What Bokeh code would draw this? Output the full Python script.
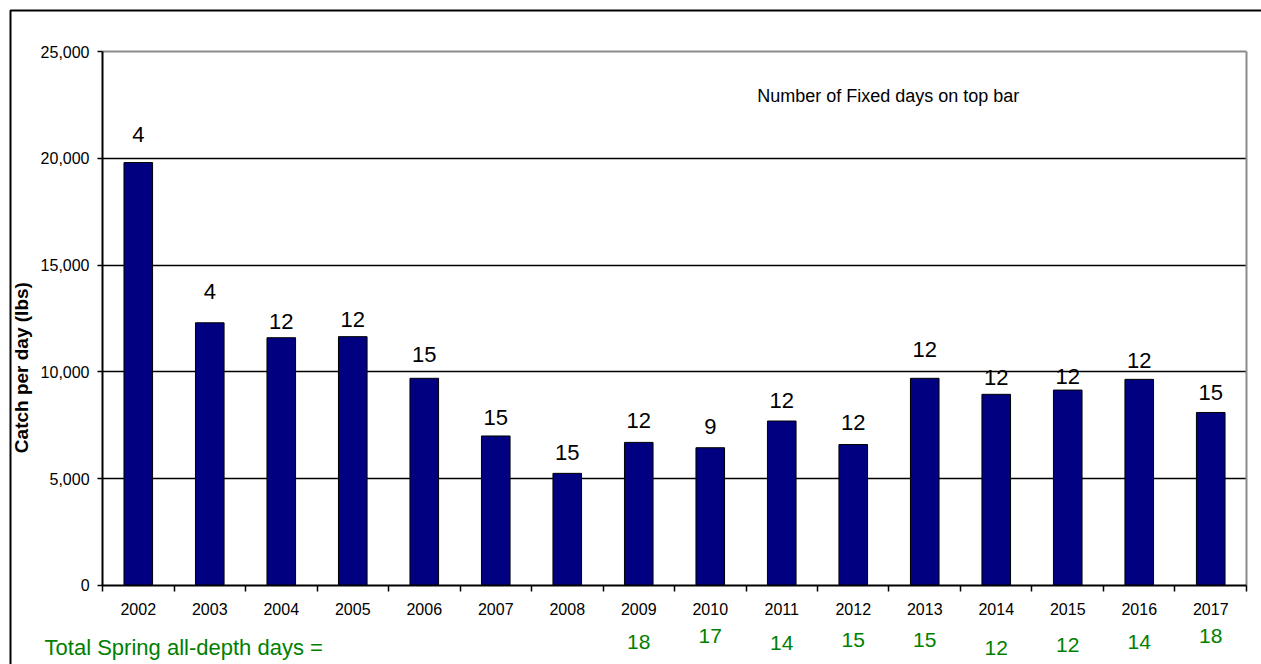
import math
from bokeh.plotting import figure
from bokeh.models import (ColumnDataSource, LinearAxis, FixedTicker, NumeralTickFormatter,
                          BasicTickFormatter, LabelSet, Label, BoxAnnotation, Range1d, Grid)
from bokeh.core.properties import value
from bokeh.embed import file_html
from bokeh.resources import INLINE

# ---------------- data ----------------
years = [2002, 2003, 2004, 2005, 2006, 2007, 2008, 2009,
         2010, 2011, 2012, 2013, 2014, 2015, 2016, 2017]
catch_per_day = [19800, 12300, 11600, 11650, 9700, 7000, 5250, 6700,
                 6450, 7700, 6600, 9700, 8950, 9150, 9650, 8100]
fixed_days = [4, 4, 12, 12, 15, 15, 15, 12, 9, 12, 12, 12, 12, 12, 12, 15]

spring_years = [2009, 2010, 2011, 2012, 2013, 2014, 2015, 2016, 2017]
spring_total_days = [18, 17, 14, 15, 15, 12, 12, 14, 18]

y_ticks = [0, 5000, 10000, 15000, 20000, 25000]
grid_ticks = [5000, 10000, 15000, 20000]

# ---------------- label placement (styling, px) ----------------
fixed_label_lift = [28, 31, 16, 17, 24, 18, 21, 22, 21, 21, 22, 29, 17, 14, 19, 20]
spring_label_drop = [57, 51, 58, 55, 55, 63, 60, 57, 51]

FONT = "Liberation Sans"
GREEN = "#008000"
NAVY = "#000080"

y_min, y_max = 0, 25000
x_lo, x_hi = years[0] - 0.5, years[-1] + 0.5

src = ColumnDataSource(dict(
    year=years, catch=catch_per_day,
    fixed=[str(v) for v in fixed_days], lift=fixed_label_lift))
spring_src = ColumnDataSource(dict(
    year=spring_years, total=[str(v) for v in spring_total_days],
    zero=[0] * len(spring_years), drop=[-d for d in spring_label_drop]))

# The frame fills the whole canvas; the axes are pinned inside it.
p = figure(width=1261, height=664, title=None,
           x_range=Range1d(2000.073, 2017.710), y_range=Range1d(-3699, 27388),
           x_axis_type=None, y_axis_type=None,
           output_backend="svg", toolbar_location=None,
           min_border_left=0, min_border_right=0, min_border_top=0, min_border_bottom=0)
p.background_fill_color = "white"
p.border_fill_color = "white"
p.outline_line_color = None

# horizontal grid lines (plot area only)
p.add_layout(Grid(dimension=1, ticker=FixedTicker(ticks=grid_ticks), cross_bounds=(x_lo, x_hi),
                  grid_line_color="black", grid_line_width=1.5))
# grey top and right edges of the plot area
p.add_layout(Grid(dimension=1, ticker=FixedTicker(ticks=[y_max]), cross_bounds=(x_lo, x_hi),
                  grid_line_color="#8c8c8c", grid_line_width=2))
p.add_layout(Grid(dimension=0, ticker=FixedTicker(ticks=[x_hi]), cross_bounds=(y_min, y_max),
                  grid_line_color="#8c8c8c", grid_line_width=2))

# y axis
yaxis = LinearAxis(fixed_location=x_lo, bounds=(y_min, y_max),
                   ticker=FixedTicker(ticks=y_ticks),
                   formatter=NumeralTickFormatter(format="0,0"),
                   axis_line_color="black", axis_line_width=2,
                   major_tick_line_color="black", major_tick_line_width=1.5,
                   major_tick_out=5, major_tick_in=0,
                   minor_tick_line_color=None,
                   major_label_text_font=FONT, major_label_text_font_size="16px",
                   major_label_text_color="black", major_label_standoff=8)
p.add_layout(yaxis, "left")

# x axis: year labels at bar centres, tick marks between years
xaxis = LinearAxis(fixed_location=0, bounds=(x_lo, x_hi),
                   ticker=FixedTicker(ticks=years,
                                      minor_ticks=[y - 0.5 for y in years] + [x_hi]),
                   formatter=BasicTickFormatter(use_scientific=False),
                   axis_line_color="black", axis_line_width=2,
                   major_tick_line_color=None, major_tick_out=6, major_tick_in=0,
                   minor_tick_line_color="black", minor_tick_line_width=1.5,
                   minor_tick_out=6, minor_tick_in=0,
                   major_label_text_font=FONT, major_label_text_font_size="16px",
                   major_label_text_color="black", major_label_standoff=12)
p.add_layout(xaxis, "below")

p.vbar(x="year", top="catch", bottom=0, width=0.4, source=src,
       fill_color=NAVY, line_color="black", line_width=1)

p.add_layout(LabelSet(x="year", y="catch", text="fixed", y_offset="lift", source=src,
                      text_align="center", text_baseline="middle",
                      text_font=value(FONT), text_font_size="22px", text_color="black"))

p.add_layout(LabelSet(x="year", y="zero", text="total", y_offset="drop", source=spring_src,
                      text_align="center", text_baseline="middle",
                      text_font=value(FONT), text_font_size="21px", text_color=GREEN))

p.add_layout(Label(x=2000.69, y=-2900, text="Total Spring all-depth days =",
                   text_align="left", text_baseline="middle",
                   text_font=FONT, text_font_size="22px", text_color=GREEN))

p.add_layout(Label(x=2012.49, y=22900, text="Number of Fixed days on top bar",
                   text_align="center", text_baseline="middle",
                   text_font=FONT, text_font_size="18px", text_color="black"))

p.add_layout(Label(x=2000.37, y=10200, text="Catch per day (lbs)", angle=math.pi / 2,
                   text_align="center", text_baseline="middle",
                   text_font=FONT, text_font_size="19px", text_font_style="bold",
                   text_color="black"))

# outer chart border (its right and bottom sides lie beyond the picture)
p.add_layout(BoxAnnotation(left=10, right=5000, top=10, bottom=5000,
                           left_units="canvas", right_units="canvas",
                           top_units="canvas", bottom_units="canvas",
                           fill_color=None, fill_alpha=0,
                           line_color="black", line_alpha=1.0, line_dash="solid",
                           line_width=2, level="overlay"))

open("out.html", "w").write(file_html(p, INLINE))
